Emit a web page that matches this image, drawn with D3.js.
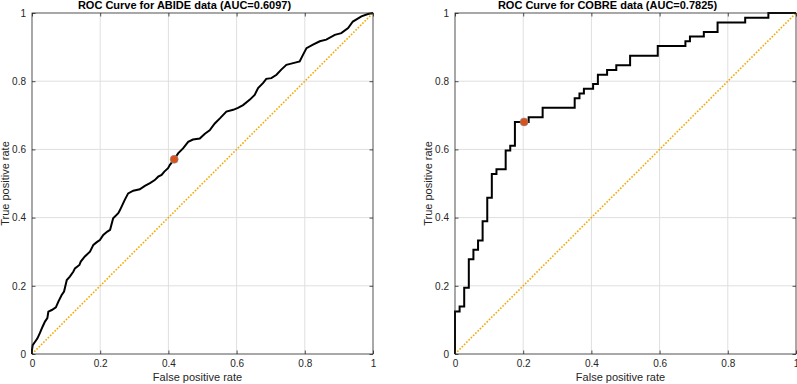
<!DOCTYPE html>
<html>
<head>
<meta charset="utf-8">
<script src="https://cdn.jsdelivr.net/npm/d3@7"></script>
<style>
  body { margin: 0; background: #fff; }
  svg { display: block; font-family: "Liberation Sans", Arial, Helvetica, sans-serif; }
</style>
</head>
<body>
<svg id="chart" width="797" height="384"></svg>
<script>
// ---- data ----
const tickVals = [0, 0.2, 0.4, 0.6, 0.8, 1]

// ABIDE roc curve (fpr, tpr)
const abideFpr = [0, 0, 0.002, 0.009, 0.016, 0.023, 0.031, 0.038, 0.045, 0.048, 0.058, 0.070, 0.077, 0.087, 0.094,
  0.102, 0.111, 0.121, 0.126, 0.139, 0.143, 0.155, 0.170, 0.180, 0.190, 0.199, 0.209, 0.221, 0.229, 0.238, 0.253,
  0.258, 0.272, 0.282, 0.297, 0.316, 0.331, 0.346, 0.360, 0.370, 0.380, 0.388, 0.399, 0.404, 0.417, 0.429, 0.443,
  0.458, 0.472, 0.492, 0.507, 0.521, 0.536, 0.551, 0.570, 0.590, 0.604, 0.619, 0.639, 0.653, 0.663, 0.678, 0.687,
  0.702, 0.717, 0.731, 0.746, 0.766, 0.785, 0.795, 0.805, 0.824, 0.844, 0.863, 0.888, 0.907, 0.927, 0.941, 0.966,
  0.985, 1]
const abideTpr = [0, 0.012, 0.026, 0.036, 0.046, 0.061, 0.080, 0.095, 0.105, 0.124, 0.129, 0.137, 0.153, 0.173, 0.183,
  0.217, 0.227, 0.241, 0.251, 0.261, 0.271, 0.286, 0.300, 0.320, 0.328, 0.334, 0.349, 0.359, 0.364, 0.398, 0.413,
  0.422, 0.452, 0.471, 0.479, 0.483, 0.493, 0.501, 0.510, 0.520, 0.525, 0.535, 0.545, 0.554, 0.571, 0.589, 0.603,
  0.622, 0.629, 0.632, 0.646, 0.656, 0.676, 0.691, 0.711, 0.716, 0.722, 0.730, 0.746, 0.760, 0.780, 0.795, 0.807,
  0.809, 0.819, 0.834, 0.848, 0.853, 0.858, 0.878, 0.897, 0.907, 0.917, 0.922, 0.936, 0.941, 0.956, 0.975, 0.990,
  0.997, 1]
const abideOpt = [0.417, 0.571]   // operating point

// COBRE roc curve, corners of the staircase
const cobreFpr = [0, 0, 0.0135, 0.027, 0.0405, 0.054, 0.0676, 0.081, 0.0946, 0.108, 0.1216, 0.1486, 0.162, 0.1757,
  0.216, 0.257, 0.351, 0.365, 0.378, 0.405, 0.419, 0.446, 0.473, 0.5135, 0.5946, 0.6757, 0.689, 0.7297, 0.770,
  0.851, 0.919, 1]
const cobreTpr = [0, 0.125, 0.139, 0.194, 0.278, 0.3056, 0.333, 0.389, 0.458, 0.528, 0.5417, 0.597, 0.611, 0.6806,
  0.694, 0.722, 0.750, 0.764, 0.778, 0.792, 0.819, 0.833, 0.847, 0.875, 0.903, 0.917, 0.931, 0.944, 0.972,
  0.986, 1, 1]
const cobreOpt = [0.2027, 0.6806]

const panels = [
  { title: "ROC Curve for ABIDE data (AUC=0.6097)", fpr: abideFpr, tpr: abideTpr, opt: abideOpt, left: 32, right: 373, step: false },
  { title: "ROC Curve for COBRE data (AUC=0.7825)", fpr: cobreFpr, tpr: cobreTpr, opt: cobreOpt, left: 455, right: 796, step: true }
]

const svg = d3.select("#chart")
const top_y = 13, bottom_y = 354
const axisCol = "#262626"

panels.forEach(function(p) {
  const x = d3.scaleLinear().domain([0, 1]).range([p.left, p.right])
  const y = d3.scaleLinear().domain([0, 1]).range([bottom_y, top_y])
  const g = svg.append("g")

  // grid
  g.selectAll(".gx").data(tickVals.slice(1, -1)).enter().append("line")
    .attr("x1", d => x(d)).attr("x2", d => x(d))
    .attr("y1", top_y).attr("y2", bottom_y)
    .attr("stroke", "#dfdfdf").attr("stroke-width", 1)
  g.selectAll(".gy").data(tickVals.slice(1, -1)).enter().append("line")
    .attr("y1", d => y(d)).attr("y2", d => y(d))
    .attr("x1", p.left).attr("x2", p.right)
    .attr("stroke", "#dfdfdf").attr("stroke-width", 1)

  // chance line
  g.append("line")
    .attr("x1", x(0)).attr("y1", y(0)).attr("x2", x(1)).attr("y2", y(1))
    .attr("stroke", "#f2a900").attr("stroke-width", 1.6)
    .attr("stroke-dasharray", "1.6,1.6")

  // roc curve
  const pts = p.fpr.map((v, i) => [v, p.tpr[i]])
  const line = d3.line()
    .x(d => x(d[0])).y(d => y(d[1]))
    .curve(p.step ? d3.curveStepAfter : d3.curveLinear)
  g.append("path")
    .attr("d", line(pts))
    .attr("fill", "none").attr("stroke", "#000")
    .attr("stroke-width", 2).attr("stroke-linejoin", "miter")

  // operating point
  g.append("circle")
    .attr("cx", x(p.opt[0])).attr("cy", y(p.opt[1])).attr("r", 4)
    .attr("fill", "#d95319").attr("stroke", "#7f8fa6").attr("stroke-width", 0.6)

  // box
  g.append("rect")
    .attr("x", p.left).attr("y", top_y)
    .attr("width", p.right - p.left).attr("height", bottom_y - top_y)
    .attr("fill", "none").attr("stroke", axisCol).attr("stroke-width", 0.8)

  // axes (ticks inward, both sides)
  const tk = 3.5
  g.append("g").attr("transform", "translate(0," + bottom_y + ")")
    .call(d3.axisBottom(x).tickValues(tickVals).tickFormat(d3.format("~g")).tickSizeInner(-tk).tickSizeOuter(0).tickPadding(6))
  g.append("g").attr("transform", "translate(0," + top_y + ")")
    .call(d3.axisTop(x).tickValues(tickVals).tickFormat("").tickSizeInner(-tk).tickSizeOuter(0))
  g.append("g").attr("transform", "translate(" + p.left + ",0)")
    .call(d3.axisLeft(y).tickValues(tickVals).tickFormat(d3.format("~g")).tickSizeInner(-tk).tickSizeOuter(0).tickPadding(6))
  g.append("g").attr("transform", "translate(" + p.right + ",0)")
    .call(d3.axisRight(y).tickValues(tickVals).tickFormat("").tickSizeInner(-tk).tickSizeOuter(0))
  g.selectAll(".domain").remove()
  g.selectAll(".tick line").attr("stroke", axisCol).attr("stroke-width", 0.8)
  g.selectAll(".tick text").attr("fill", axisCol).style("font-size", "10px")
    .style("font-family", "'Liberation Sans', Arial, sans-serif")

  // labels
  const cx = (p.left + p.right) / 2
  g.append("text").attr("x", cx - 18).attr("y", 9)
    .attr("text-anchor", "middle").attr("font-weight", "bold").attr("font-size", 11)
    .attr("fill", "#000").text(p.title)
  g.append("text").attr("x", cx - 5).attr("y", 381)
    .attr("text-anchor", "middle").attr("font-size", 11).attr("fill", axisCol)
    .text("False positive rate")
  g.append("text")
    .attr("transform", "translate(" + (p.left - 23) + "," + ((top_y + bottom_y) / 2) + ") rotate(-90)")
    .attr("text-anchor", "middle").attr("font-size", 11).attr("fill", axisCol)
    .text("True positive rate")
})
</script>
</body>
</html>
